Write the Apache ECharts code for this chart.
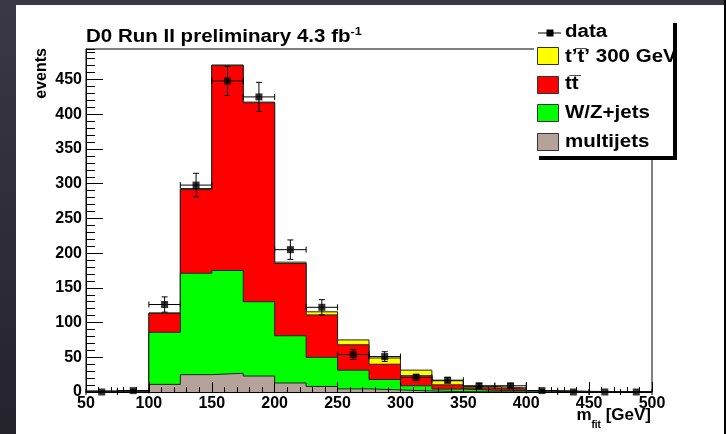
<!DOCTYPE html>
<html>
<head>
<meta charset="utf-8">
<script src="https://cdn.jsdelivr.net/npm/echarts@6/dist/echarts.min.js"></script>
<style>
  html, body { margin: 0; padding: 0; }
  body {
    width: 726px; height: 434px; overflow: hidden; position: relative;
    background: linear-gradient(180deg, #3a3846 0%, #2e2d39 50%, #24232c 100%);
  }
  #panel { position: absolute; left: 16px; top: 5px; width: 708px; height: 429px; background: #fff; }
  #edge { position: absolute; left: 724px; top: 0; width: 2px; height: 434px; background: #000; }
  #chart { position: absolute; left: 0; top: 0; width: 726px; height: 434px; }
</style>
</head>
<body>
<div id="panel"></div>
<div id="edge"></div>
<div id="chart"></div>
<script>
// Fitted top-quark mass, 25 GeV bins from 50 to 500 GeV
const binLow = [50, 75, 100, 125, 150, 175, 200, 225, 250, 275, 300, 325, 350, 375, 400, 425, 450, 475];
const binWidth = 25;

// Expected events per bin for each process
const multijets = [0.5, 0.5, 11, 25, 27, 23, 13, 8, 4.5, 3, 1.5, 0.5, 0.3, 0.2, 0.1, 0, 0, 0];
const wzJets    = [0.5, 1, 75, 146, 148, 107, 68, 42, 27, 15, 7.5, 3.7, 2.2, 1.8, 0.9, 0.5, 0.3, 0.2];
const ttbar     = [0.2, 0.5, 27, 120.5, 295, 286.5, 104, 61, 36.5, 22, 14.5, 6.1, 3.5, 2.5, 0.5, 0.2, 0.1, 0.1];
const tPrime300 = [0.1, 0.2, 1, 1.5, 1, 1, 2, 4.5, 7, 9, 8, 5.9, 2, 1.5, 0.5, 0.3, 0.1, 0];

// Observed events and their uncertainties
const dataCounts = [0, 2, 126, 298, 448, 425, 205, 122, 54, 51, 21, 17, 9, 9, 2, 0, 0, 0];
const dataErrors = [0, 1.4, 11, 17, 21, 21, 14, 11, 7, 7, 4.6, 4, 3, 3, 1.4, 0, 0, 0];

// Axis ticks
const xTicks = [50, 100, 150, 200, 250, 300, 350, 400, 450, 500];
const yTicks = [0, 50, 100, 150, 200, 250, 300, 350, 400, 450];

const COLORS = { tprime: '#ffff00', ttbar: '#ff0000', wz: '#00ff00', multi: '#b5a39b' };
const FONT = '"Liberation Sans", Arial, Helvetica, sans-serif';
const WIDE = 1.14; // horizontal stretch of the title and legend lettering

// Running sums give the stacked histogram heights
function addArrays(a, b) { return a.map((v, i) => v + b[i]); }
const cumMulti = multijets.slice();
const cumWZ = addArrays(cumMulti, wzJets);
const cumTT = addArrays(cumWZ, ttbar);
const cumAll = addArrays(cumTT, tPrime300);

// Step outline points: one per bin edge, last bin closed at the upper edge
function stepPoints(values) {
  const pts = binLow.map((x, i) => [x, values[i]]);
  const last = binLow.length - 1;
  pts.push([binLow[last] + binWidth, values[last]]);
  return pts;
}

function histSeries(name, values, color, z) {
  return {
    name: name,
    type: 'line',
    step: 'end',
    data: stepPoints(values),
    symbol: 'none',
    lineStyle: { color: '#222', width: 1 },
    areaStyle: { color: color, opacity: 1 },
    z: z,
    silent: true
  };
}

function legendText(label, y) {
  return {
    type: 'text', x: 565, y: y, scaleX: WIDE,
    style: { text: label, fill: '#000', fontFamily: FONT, fontWeight: 'bold', fontSize: 18, verticalAlign: 'middle' }
  };
}

const chart = echarts.init(document.getElementById('chart'), null, { renderer: 'canvas' });

const option = {
  animation: false,
  backgroundColor: 'transparent',
  grid: {
    left: 86, right: 74, top: 49, bottom: 42,
    show: true, borderColor: '#000', borderWidth: 1, backgroundColor: 'transparent'
  },
  xAxis: {
    type: 'value',
    min: xTicks[0], max: xTicks[xTicks.length - 1], interval: xTicks[1] - xTicks[0],
    z: 20,
    splitLine: { show: false },
    axisLine: { lineStyle: { color: '#000', width: 1 } },
    axisTick: { inside: true, length: 10, lineStyle: { color: '#000', width: 1 } },
    minorTick: { show: true, splitNumber: 5, length: 5, lineStyle: { color: '#000', width: 1 } },
    minorSplitLine: { show: false },
    axisLabel: { color: '#000', fontFamily: FONT, fontWeight: 'bold', fontSize: 16, margin: 4 }
  },
  yAxis: [
    {
      type: 'value',
      min: 0, max: 494, interval: yTicks[1] - yTicks[0],
      z: 20,
      splitLine: { show: false },
      axisLine: { show: true, lineStyle: { color: '#000', width: 1 } },
      axisTick: { show: true, inside: true, length: 17, lineStyle: { color: '#000', width: 1 } },
      axisLabel: { color: '#000', fontFamily: FONT, fontWeight: 'bold', fontSize: 16, margin: 4, showMaxLabel: false }
    },
    {
      // secondary divisions every 10 events
      type: 'value',
      min: 0, max: 494, interval: 10,
      position: 'left',
      z: 20,
      splitLine: { show: false },
      axisLine: { show: false },
      axisTick: { show: true, inside: true, length: 9, lineStyle: { color: '#000', width: 1 } },
      axisLabel: { show: false }
    }
  ],
  series: [
    histSeries("t't' 300 GeV", cumAll, COLORS.tprime, 2),
    histSeries('tt', cumTT, COLORS.ttbar, 3),
    histSeries('W/Z+jets', cumWZ, COLORS.wz, 4),
    histSeries('multijets', cumMulti, COLORS.multi, 5),
    {
      name: 'data errors',
      type: 'custom',
      z: 10,
      silent: true,
      encode: { x: 0, y: 1 },
      data: binLow.map((x, i) => [x + binWidth / 2, dataCounts[i], dataErrors[i]]),
      renderItem: function (params, api) {
        const x = api.value(0), y = api.value(1), e = api.value(2);
        const half = binWidth / 2;
        const c = api.coord([x, y]);
        const top = api.coord([x, y + e]);
        const bot = api.coord([x, y - e]);
        const l = api.coord([x - half, y]);
        const r = api.coord([x + half, y]);
        const cap = 3;
        const st = { stroke: '#000', lineWidth: 1 };
        const kids = [
          { type: 'line', shape: { x1: l[0], y1: c[1], x2: r[0], y2: c[1] }, style: st },
          { type: 'line', shape: { x1: l[0], y1: c[1] - cap, x2: l[0], y2: c[1] + cap }, style: st },
          { type: 'line', shape: { x1: r[0], y1: c[1] - cap, x2: r[0], y2: c[1] + cap }, style: st }
        ];
        if (e > 0) {
          kids.push(
            { type: 'line', shape: { x1: c[0], y1: top[1], x2: c[0], y2: bot[1] }, style: st },
            { type: 'line', shape: { x1: c[0] - cap, y1: top[1], x2: c[0] + cap, y2: top[1] }, style: st },
            { type: 'line', shape: { x1: c[0] - cap, y1: bot[1], x2: c[0] + cap, y2: bot[1] }, style: st }
          );
        }
        return { type: 'group', children: kids };
      }
    },
    {
      name: 'data',
      type: 'scatter',
      z: 12,
      silent: true,
      symbol: 'rect',
      symbolSize: 7,
      itemStyle: { color: '#000' },
      clip: false,
      data: binLow.map((x, i) => [x + binWidth / 2, dataCounts[i]])
    }
  ],
  graphic: [
    // plot title
    {
      type: 'text', x: 86, y: 37, scaleX: WIDE, z: 30,
      style: {
        text: '{m|D0 Run II preliminary 4.3 fb}{s|-1}',
        verticalAlign: 'middle',
        rich: {
          m: { fontFamily: FONT, fontWeight: 'bold', fontSize: 18, lineHeight: 22, fill: '#000' },
          s: { fontFamily: FONT, fontWeight: 'bold', fontSize: 11, lineHeight: 14, verticalAlign: 'top', fill: '#000' }
        }
      }
    },
    // y axis title
    {
      type: 'text', x: 42, y: 48, rotation: Math.PI / 2, z: 30,
      style: {
        text: 'events', fill: '#000', fontFamily: FONT, fontWeight: 'bold', fontSize: 16,
        align: 'right', verticalAlign: 'middle'
      }
    },
    // x axis title
    {
      type: 'text', x: 651, y: 415, z: 30,
      style: {
        text: '{m|m}{s|fit}{m| [GeV]}',
        align: 'right', verticalAlign: 'middle',
        rich: {
          m: { fontFamily: FONT, fontWeight: 'bold', fontSize: 17, lineHeight: 30, fill: '#000' },
          s: { fontFamily: FONT, fontWeight: 'bold', fontSize: 10, lineHeight: 12, verticalAlign: 'bottom', fill: '#000' }
        }
      }
    },
    // legend
    {
      type: 'group', z: 40,
      children: [
        { type: 'rect', shape: { x: 539, y: 23, width: 138, height: 137 }, style: { fill: '#000' } },
        { type: 'rect', shape: { x: 534, y: 19, width: 139, height: 137 }, style: { fill: '#fff' } },
        { type: 'line', shape: { x1: 538, y1: 33, x2: 561, y2: 33 }, style: { stroke: '#000', lineWidth: 1 } },
        { type: 'rect', shape: { x: 546.5, y: 29.5, width: 7, height: 7 }, style: { fill: '#000' } },
        { type: 'rect', shape: { x: 537.5, y: 47.5, width: 21, height: 17 }, style: { fill: COLORS.tprime, stroke: '#333', lineWidth: 1 } },
        { type: 'rect', shape: { x: 537.5, y: 76.5, width: 21, height: 17 }, style: { fill: COLORS.ttbar, stroke: '#333', lineWidth: 1 } },
        { type: 'rect', shape: { x: 537.5, y: 104.5, width: 21, height: 17 }, style: { fill: COLORS.wz, stroke: '#333', lineWidth: 1 } },
        { type: 'rect', shape: { x: 537.5, y: 133.5, width: 21, height: 17 }, style: { fill: COLORS.multi, stroke: '#333', lineWidth: 1 } },
        legendText('data', 32),
        legendText('t\u2019t\u0305\u2019 300 GeV', 57),
        legendText('tt\u0305', 84),
        legendText('W/Z+jets', 113),
        legendText('multijets', 142)
      ]
    }
  ]
};

chart.setOption(option);
</script>
</body>
</html>
